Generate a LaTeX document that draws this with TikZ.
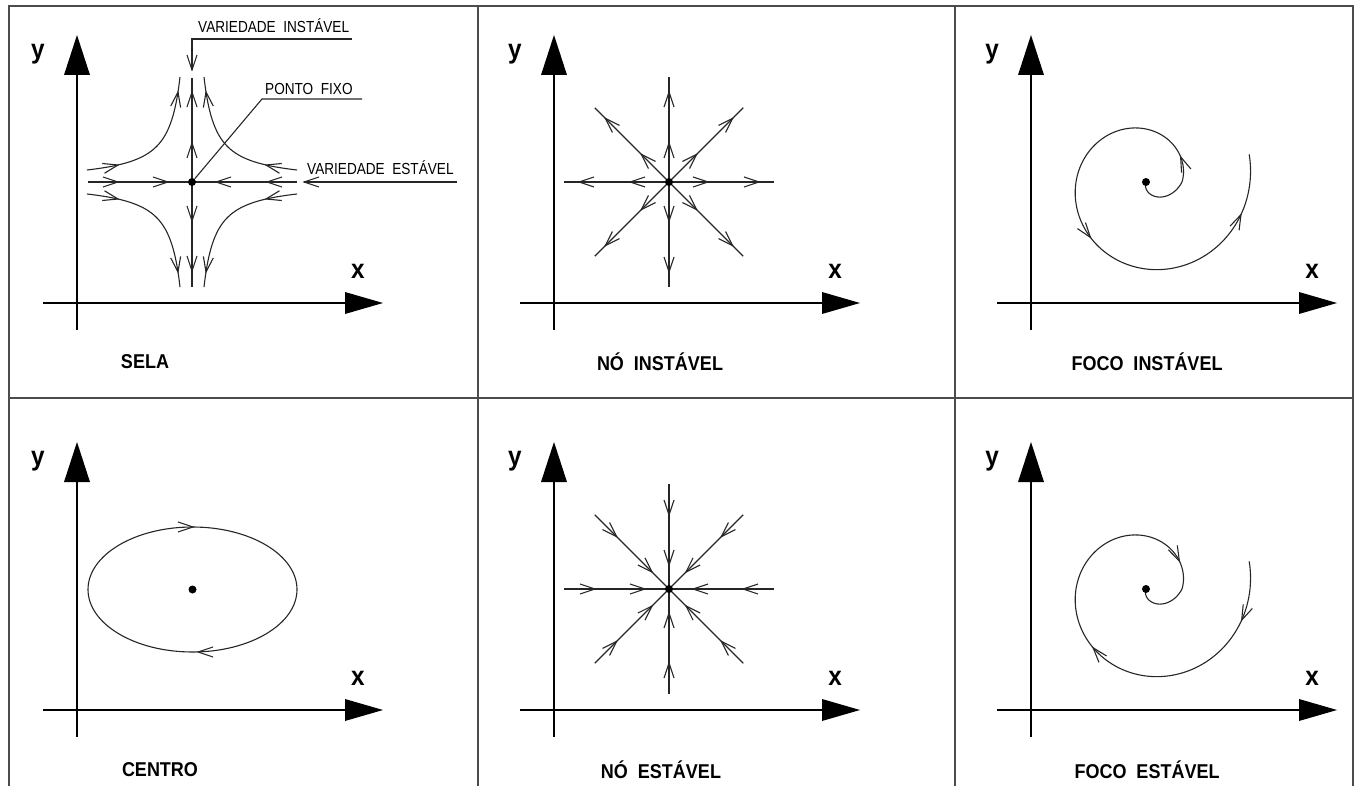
\documentclass[tikz,border=0pt]{standalone}
\usepackage{fontspec}
\newfontfamily\labfont[FakeStretch=0.85]{Liberation Sans}
\newfontfamily\titfont[FakeStretch=0.9]{Liberation Sans}
\tikzset{
  frame/.style={line width=1.6pt, draw=black!70},
  axis/.style={line width=1.4pt, draw=black},
  traj/.style={line width=1.1pt, draw=black!85},
  fixdot/.style={circle, fill=black, inner sep=0pt, minimum size=8pt},
  title/.style={font=\titfont\bfseries\fontsize{20}{20}\selectfont, inner sep=0pt},
  axlab/.style={font=\titfont\bfseries\fontsize{27}{27}\selectfont, inner sep=0pt},
  small/.style={font=\labfont\fontsize{16}{16}\selectfont, inner sep=0pt},
}
\newcommand\barb[2]{\draw[traj,shift={#1},rotate=#2] (-15pt,5pt) -- (0,0) -- (-15pt,-5pt);}
\newcommand\axes[1]{%
  \draw[axis] (77,75) -- (77,330);
  \fill (77,35) -- (64,75) -- (90,75) -- cycle;
  \draw[axis] (43,303) -- (345,303);
  \fill (383,303) -- (345,292) -- (345,314) -- cycle;
  \node[axlab] (#1y) at (38,54) {y};
  \node[axlab] (#1x) at (358,271) {x};}
\newcommand\spbarb[2]{%
  \pgfmathsetmacro\rr{36+17*#1/90}%
  \pgfmathsetmacro\ang{#1+90-atan(10.82/\rr)+#2}%
  \barb{(#1:\rr pt)}{\ang}}
\begin{document}
\begin{tikzpicture}[x=1pt,y=-1pt,
  declare function={R(\q)=(\q<0)*(36+36*\q/110)+(\q>=0)*(36+17*\q/90);}]
\useasboundingbox (0,0) rectangle (1361,786);
% frame
\draw[frame] (9,786) -- (9,6) -- (1353,6) -- (1353,786);
\draw[frame] (478,6) -- (478,786);
\draw[frame] (955,6) -- (955,786);
\draw[frame] (9,398) -- (1353,398);

% ---------- Panel 1: SELA ----------
\begin{scope}
  \axes{p1}
  \node[title] (t1) at (145,362) {SELA};
  \begin{scope}[shift={(192,182)}]
    \draw[traj] (-104,0) -- (105,0);
    \draw[traj] (0,-104) -- (0,105);
    \draw[traj] plot[domain=12:105, samples=80, smooth] ({-\x},{-1260/\x});
    \draw[traj] plot[domain=12:105, samples=80, smooth] ({\x},{-1260/\x});
    \draw[traj] plot[domain=12:105, samples=80, smooth] ({-\x},{1260/\x});
    \draw[traj] plot[domain=12:105, samples=80, smooth] ({\x},{1260/\x});
    \barb{(-74,0)}{0}\barb{(-24,0)}{0}\barb{(24,0)}{180}\barb{(75,0)}{180}
    \barb{(0,-90)}{90}\barb{(0,-39)}{90}\barb{(0,39)}{270}\barb{(0,89)}{270}
    \barb{(-74,-17)}{13}\barb{(-14,-90)}{81}
    \barb{(74,-17)}{167}\barb{(14,-90)}{99}
    \barb{(-74,17)}{-13}\barb{(-14,90)}{-81}
    \barb{(74,17)}{193}\barb{(14,90)}{261}
  \end{scope}
  \node[fixdot] (c1) at (192,182) {};
  % leaders
  \draw[traj] (352,39) -- (192,39) -- (192,70);
  \barb{(192,70)}{270}
  \node[small, anchor=base west] (l1) at (198,33) {VARIEDADE\ \ INSTÁVEL};
  \draw[traj] (362,99) -- (262,99) -- (c1);
  \node[small, anchor=base west] (l2) at (265,95) {PONTO\ \ FIXO};
  \draw[traj] (457,182) -- (304,182);
  \barb{(304,182)}{180}
  \node[small, anchor=base west] (l3) at (307,175) {VARIEDADE\ \ ESTÁVEL};
\end{scope}

% ---------- Panel 2: NO INSTAVEL ----------
\begin{scope}[shift={(477,0)}]
  \axes{p2}
  \node[title] (t2) at (183,362) {NÓ\ \ INSTÁVEL};
  \begin{scope}[shift={(192,182)}]
    \foreach \a in {0,45,...,315}{
      \draw[traj] (0,0) -- (\a:105pt);
      \barb{(\a:39pt)}{\a}\barb{(\a:90pt)}{\a}}
  \end{scope}
  \node[fixdot] (c2) at (192,182) {};
\end{scope}

% ---------- Panel 3: FOCO INSTAVEL ----------
\begin{scope}[shift={(954,0)}]
  \axes{p3}
  \node[title] (t3) at (193,362) {FOCO\ \ INSTÁVEL};
  \begin{scope}[shift={(192,182)}]
    \draw[traj] plot[domain=-110:375, samples=200, smooth, variable=\t] ({R(\t)*cos(\t)},{-R(\t)*sin(\t)});
    \spbarb{36}{0}\spbarb{225}{0}\spbarb{341}{0}
  \end{scope}
  \node[fixdot] (c3) at (192,182) {};
\end{scope}

% ---------- Panel 4: CENTRO ----------
\begin{scope}[shift={(0,407)}]
  \axes{p4}
  \node[title] (t4) at (160,363) {CENTRO};
  \draw[traj] (192.5,182.5) ellipse [x radius=104.5, y radius=62.5];
  \barb{(193,120)}{0}\barb{(198,245)}{180}
  \node[fixdot] (c4) at (192.5,182.5) {};
\end{scope}

% ---------- Panel 5: NO ESTAVEL ----------
\begin{scope}[shift={(477,407)}]
  \axes{p5}
  \node[title] (t5) at (184,363) {NÓ\ \ ESTÁVEL};
  \begin{scope}[shift={(192,182)}]
    \foreach \a in {0,45,...,315}{
      \draw[traj] (0,0) -- (\a:105pt);
      \barb{(\a:24pt)}{\a+180}\barb{(\a:74pt)}{\a+180}}
  \end{scope}
  \node[fixdot] (c5) at (192,182) {};
\end{scope}

% ---------- Panel 6: FOCO ESTAVEL ----------
\begin{scope}[shift={(954,407)}]
  \axes{p6}
  \node[title] (t6) at (193,363) {FOCO\ \ ESTÁVEL};
  \begin{scope}[shift={(192,182)}]
    \draw[traj] plot[domain=-110:375, samples=200, smooth, variable=\t] ({R(\t)*cos(\t)},{-R(\t)*sin(\t)});
    \spbarb{40}{180}\spbarb{228}{180}\spbarb{342}{180}
  \end{scope}
  \node[fixdot] (c6) at (192,182) {};
\end{scope}
\end{tikzpicture}
\end{document}
